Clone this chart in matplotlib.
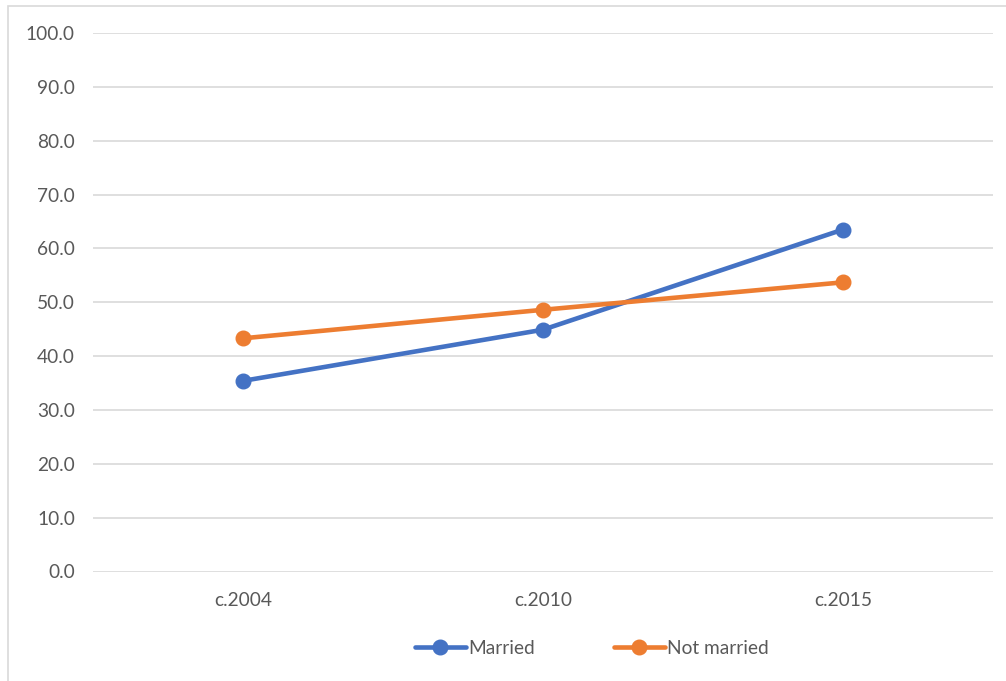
import matplotlib.pyplot as plt
from matplotlib.patches import Rectangle

# survey rounds and shares for each group
periods = ["c.2004", "c.2010", "c.2015"]
married = [35.4, 44.9, 63.5]
not_married = [43.3, 48.6, 53.7]
y_ticks = [0, 10, 20, 30, 40, 50, 60, 70, 80, 90, 100]

plt.rcParams['font.family'] = ['Lato', 'DejaVu Sans']
text_color = '#595959'
grid_color = '#d9d9d9'

W, H = 1006, 681
fig = plt.figure(figsize=(W / 100, H / 100), dpi=100)

# chart border (runs off the right and bottom edge)
fig.patches.append(Rectangle((8 / W, -0.1), 1.1, 1 - 6 / H + 0.1,
                             transform=fig.transFigure, fill=False,
                             edgecolor=grid_color, linewidth=1.2))

ax = fig.add_axes([93 / W, (H - 571.5) / H, 900 / W, (571.5 - 33) / H])
x = list(range(len(periods)))
ax.plot(x, married, color='#4472C4', lw=3.3, marker='o', ms=10.5,
        solid_capstyle='round', label='Married', zorder=3)
ax.plot(x, not_married, color='#ED7D31', lw=3.3, marker='o', ms=10.5,
        solid_capstyle='round', label='Not married', zorder=3)

ax.set_xlim(-0.5, 2.5)
ax.set_ylim(0, 100)
ax.set_yticks(y_ticks)
ax.set_yticklabels([f"{v:.1f}" for v in y_ticks])
ax.set_xticks(x)
ax.set_xticklabels(periods)
ax.yaxis.grid(True, color=grid_color, lw=1.2)
ax.set_axisbelow(True)
for s in ax.spines.values():
    s.set_visible(False)
ax.tick_params(length=0, labelsize=13.8, colors=text_color, pad=13)
ax.tick_params(axis='x', pad=15)

leg = fig.legend(loc='center', bbox_to_anchor=(592 / W, (H - 648.5) / H),
                 ncol=2, frameon=False, fontsize=13.8, handlelength=2.65,
                 handletextpad=0.15, columnspacing=4.1)
for t in leg.get_texts():
    t.set_color(text_color)

fig.savefig('out.png', dpi=100)
